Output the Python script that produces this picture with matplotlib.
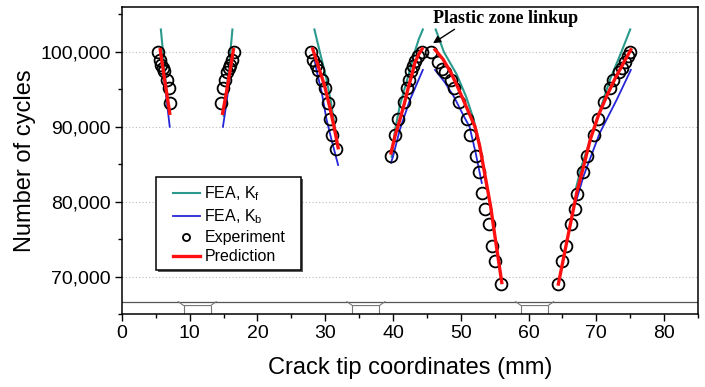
import numpy as np
import matplotlib
matplotlib.use("Agg")
import matplotlib.pyplot as plt
from matplotlib.ticker import MultipleLocator, FuncFormatter
from matplotlib.lines import Line2D
from matplotlib.legend_handler import HandlerLine2D
from matplotlib.patches import Rectangle

plt.rcParams["font.family"] = ["Liberation Sans", "DejaVu Sans"]
plt.rcParams["mathtext.fontset"] = "custom"
plt.rcParams["mathtext.rm"] = "Liberation Sans"
plt.rcParams["mathtext.it"] = "Liberation Sans:italic"

# experiment points (crack tip x in mm, cycles)
exp_x = [5.3, 5.55, 5.8, 6.0, 6.2, 6.6, 6.95, 7.15,
         16.5, 16.2, 15.95, 15.75, 15.55, 15.15, 14.9, 14.55,
         27.9, 28.2, 28.6, 29.0, 29.5, 29.9, 30.4, 30.75, 31.05, 31.65,
         39.7, 40.3, 40.8, 41.6, 42.0, 42.3, 42.6, 42.9, 43.2, 43.7, 44.3,
         45.6, 46.7, 47.3, 47.7, 48.6, 49.0, 49.8, 50.9, 51.4, 52.3, 52.7,
         53.2, 53.6, 54.1, 54.6, 55.0, 56.0,
         64.4, 65.0, 65.5, 66.2, 66.8, 67.2, 68.0, 68.6, 69.7, 70.2, 71.1,
         72.0, 72.5, 73.3, 73.8, 74.2, 74.7, 75.0]
exp_y = [100000, 98900, 98200, 97800, 97400, 96270, 95160, 93240,
         100000, 98900, 98200, 97800, 97300, 96270, 95160, 93240,
         100000, 98900, 98200, 97600, 96270, 95160, 93240, 91100, 88940, 87030,
         86040, 88940, 91100, 93300, 95160, 96200, 97500, 98100, 98800, 99500, 100000,
         100000, 98710, 97750, 97380, 96200, 95160, 93300, 91100, 88940, 86080, 84000,
         81100, 79070, 77050, 74040, 72100, 69070,
         69070, 72140, 74040, 77070, 79050, 81070, 84000, 86040, 88940, 91100, 93300,
         95160, 96270, 97380, 97830, 98700, 99500, 100000]

# FEA with K_f (one list per crack segment)
kf_x = [[5.74, 5.95, 6.2, 6.5, 6.85],
        [16.3, 16.05, 15.75, 15.4, 15.0],
        [28.4, 29.2, 30.2, 30.9, 31.4, 31.8],
        [39.8, 40.3, 41.0, 41.8, 42.5, 43.2, 43.8, 44.4],
        [46.3, 47.5, 49.4, 50.8, 51.9, 52.7, 53.3, 53.8],
        [75.0, 73.7, 72.0, 69.6, 67.8, 67.0]]
kf_y = [[103000, 101000, 98500, 95500, 92000],
        [103000, 100500, 97500, 94500, 91500],
        [103000, 100000, 96300, 93000, 90000, 87500],
        [86000, 89600, 92800, 95400, 97600, 100000, 101700, 103000],
        [103000, 100000, 97000, 94000, 91000, 88000, 85000, 82000],
        [103000, 100000, 96270, 89600, 84700, 81800]]

# FEA with K_b
kb_x = [[5.8, 6.2, 6.6, 7.05],
        [16.35, 15.9, 15.4, 14.9],
        [28.4, 28.7, 29.5, 30.2, 31.0, 31.9],
        [39.7, 40.0, 41.0, 42.5, 44.4],
        [46.2, 47.6, 49.0, 50.4, 51.3, 52.2, 53.1],
        [75.1, 73.0, 70.5, 68.1, 67.0]]
kb_y = [[99500, 96500, 93500, 90000],
        [99500, 96500, 93000, 90000],
        [99000, 97600, 94500, 90930, 88000, 84900],
        [85200, 86040, 89600, 93600, 97600],
        [97600, 96000, 94000, 91500, 90000, 86500, 82500],
        [97600, 93600, 89160, 83380, 80000]]

# prediction
pr_x = [[5.65, 6.1, 6.6, 7.05],
        [16.45, 15.95, 15.4, 14.85],
        [28.15, 29.0, 29.9, 30.7, 31.3, 31.9],
        [39.7, 40.3, 41.0, 41.7, 42.3, 42.8, 43.2, 43.8, 44.3],
        [46.2, 47.4, 48.5, 49.5, 50.9, 52.1, 52.8, 53.6, 54.4, 55.2, 56.05],
        [64.4, 65.5, 66.4, 67.1, 68.2, 69.1, 70.3, 71.5, 72.8, 74.0, 75.1]]
pr_y = [[100300, 97500, 94500, 91800],
        [100300, 97500, 94500, 91800],
        [100400, 98000, 95500, 92500, 90000, 87200],
        [86500, 88800, 90900, 93200, 95400, 97000, 98500, 99700, 100400],
        [100300, 99000, 97300, 95400, 92500, 90000, 87400, 83400, 79400, 74400, 69200],
        [69000, 74000, 78000, 81160, 85000, 88270, 91500, 94040, 96500, 98500, 100300]]

# specimen sketch under the data: line level, notch centres
strip_y = 66650
notch_y = 66130
notch_c = [11.1, 36.0, 60.9]

fig = plt.figure(figsize=(7.05, 3.87), dpi=100)
ax = fig.add_axes([0.173, 0.1886, 0.817, 0.7933])

for v in [70000, 80000, 90000, 100000]:
    ax.axhline(v, color="#bdbdbd", lw=0.8, ls=(0, (1, 2)), zorder=0)

for i in range(len(kf_x)):
    ax.plot(kf_x[i], kf_y[i], color="#2a9a8c", lw=1.5, label="FEA, $\\mathregular{K_f}$" if i == 0 else None, zorder=2)
for i in range(len(kb_x)):
    ax.plot(kb_x[i], kb_y[i], color="#2626d9", lw=1.3, label="FEA, $\\mathregular{K_b}$" if i == 0 else None, zorder=2)
ax.plot(exp_x, exp_y, "o", ms=8.5, mfc="none", mec="k", mew=1.3, label="Experiment", zorder=3)
for i in range(len(pr_x)):
    ax.plot(pr_x[i], pr_y[i], color="#ff1010", lw=2.4, label="Prediction" if i == 0 else None, zorder=4)

# specimen strip with bolt holes
ax.plot([0, 85], [strip_y, strip_y], color="#555555", lw=0.9)
for c in notch_c:
    ax.plot([c - 2.8, c - 2.0, c + 2.0, c + 2.8], [strip_y, notch_y, notch_y, strip_y], color="#777777", lw=0.8)
    ax.plot([c - 2.0, c - 2.0], [notch_y, 65000], color="#777777", lw=0.8)
    ax.plot([c + 2.0, c + 2.0], [notch_y, 65000], color="#777777", lw=0.8)

ax.annotate("Plastic zone linkup", xy=(45.9, 101160), xytext=(45.85, 104530),
            fontsize=13, family="Liberation Serif", fontweight="bold", va="center", ha="left",
            arrowprops=dict(arrowstyle="-|>", color="k", lw=1.0, mutation_scale=11,
                            shrinkA=0, shrinkB=0, relpos=(0.18, 0.0)))

ax.set_xlim(0, 85)
ax.set_ylim(65000, 106000)
ax.xaxis.set_major_locator(MultipleLocator(10))
ax.xaxis.set_minor_locator(MultipleLocator(5))
ax.yaxis.set_major_locator(MultipleLocator(10000))
ax.yaxis.set_minor_locator(MultipleLocator(5000))
ax.yaxis.set_major_formatter(FuncFormatter(lambda v, p: f"{int(v):,}"))
ax.tick_params(which="major", length=5, width=1, labelsize=14, pad=3)
ax.tick_params(which="minor", length=3, width=1)
for s in ax.spines.values():
    s.set_linewidth(1.1)

ax.set_xlabel("Crack tip coordinates (mm)", fontsize=17, labelpad=11)
ax.set_ylabel("Number of cycles", fontsize=17, labelpad=3)

# legend box drawn by hand so it can be wider than the text
bx0, by0, bw, bh = 0.0585, 0.143, 0.252, 0.304
ax.add_patch(Rectangle((bx0 + 0.004, by0 - 0.007), bw, bh, transform=ax.transAxes,
                       facecolor="0.2", edgecolor="none", alpha=0.8, zorder=5))
ax.add_patch(Rectangle((bx0, by0), bw, bh, transform=ax.transAxes,
                       facecolor="white", edgecolor="k", lw=1.1, zorder=5.1))
leg = ax.legend(loc="upper left", bbox_to_anchor=(bx0, by0 + bh), borderaxespad=0,
                fontsize=11.5, handlelength=2.3, handletextpad=0.25, labelspacing=0.25,
                borderpad=0.5, markerscale=0.6, frameon=False,
                handler_map={Line2D: HandlerLine2D(xpad=0.56)})
leg.set_zorder(6)

fig.savefig("out.png", dpi=100)
